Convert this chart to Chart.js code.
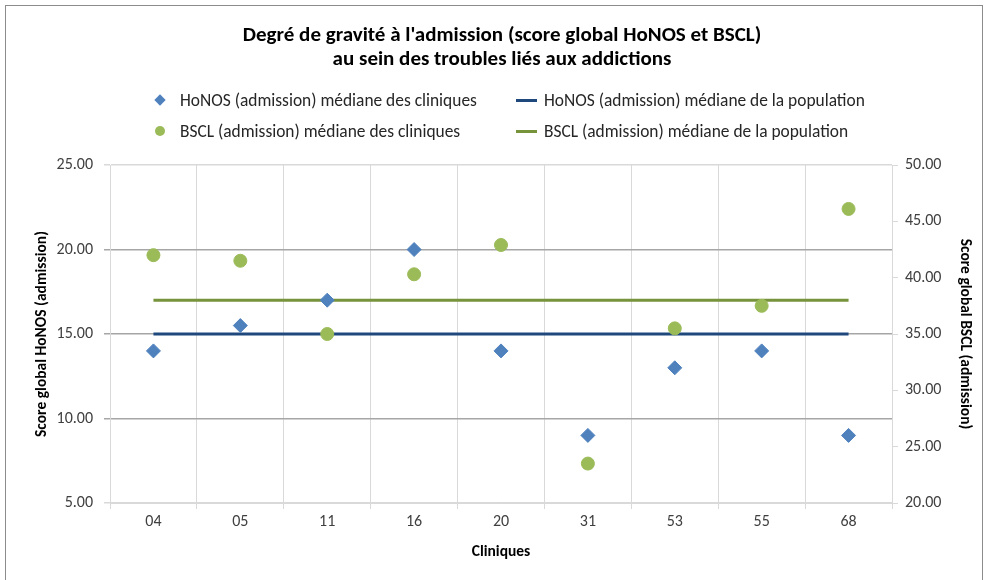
<!DOCTYPE html>
<html>
<head>
<meta charset="utf-8">
<script src="https://cdn.jsdelivr.net/npm/chart.js@4.4.1/dist/chart.umd.min.js"></script>
<style>
  body { margin: 0; background: #fff; }
  #wrap { position: relative; width: 984px; height: 580px; }
  #frame {
    position: absolute; left: 5px; top: 5px; right: 1px; bottom: -2px;
    border: 1px solid #8c8c8c; pointer-events: none;
  }
  #legend {
    position: absolute; left: 152px; top: 88px;
    display: grid; grid-template-columns: 364px 380px; row-gap: 8px;
    font-family: Carlito, Lato, sans-serif; font-size: 17.4px; color: #262626;
  }
  .item { display: flex; align-items: center; height: 23px; }
  .mark { width: 22px; height: 14px; position: relative; margin-right: 6px; }
  .diamond { position: absolute; left: 4px; top: 3px; width: 8px; height: 8px; transform: rotate(45deg); }
  .dot { position: absolute; left: 3px; top: 2px; width: 10px; height: 10px; border-radius: 50%; }
  .line { position: absolute; left: 0; top: 6px; width: 21px; height: 3px; }
</style>
</head>
<body>
<div id="wrap">
  <canvas id="chart" width="984" height="580"></canvas>
  <div id="legend"></div>
  <div id="frame"></div>
</div>
<script>
const cliniques = ["04", "05", "11", "16", "20", "31", "53", "55", "68"];
const honosCliniques = [14, 15.5, 17, 20, 14, 9, 13, 14, 9];
const honosPopulation = [15, 15, 15, 15, 15, 15, 15, 15, 15];
const bsclCliniques = [42, 41.5, 35, 40.3, 42.9, 23.5, 35.5, 37.5, 46.1];
const bsclPopulation = [38, 38, 38, 38, 38, 38, 38, 38, 38];

const FONT = "Carlito, Lato, sans-serif";
const BLUE = "#4f81bd";
const NAVY = "#1f497d";
const GREEN = "#9bbb59";
const OLIVE = "#77933c";

const datasets = [
  {
    label: "HoNOS (admission) médiane des cliniques",
    data: honosCliniques,
    yAxisID: "y",
    showLine: false,
    pointStyle: "rectRot",
    pointRadius: 7,
    pointHoverRadius: 7,
    backgroundColor: BLUE,
    borderColor: BLUE,
    order: 1,
  },
  {
    label: "HoNOS (admission) médiane de la population",
    data: honosPopulation,
    yAxisID: "y",
    borderColor: NAVY,
    backgroundColor: NAVY,
    borderWidth: 3,
    pointRadius: 0,
    order: 2,
  },
  {
    label: "BSCL (admission) médiane des cliniques",
    data: bsclCliniques,
    yAxisID: "y1",
    showLine: false,
    pointStyle: "circle",
    pointRadius: 6.5,
    pointHoverRadius: 6.5,
    backgroundColor: GREEN,
    borderColor: GREEN,
    order: 1,
  },
  {
    label: "BSCL (admission) médiane de la population",
    data: bsclPopulation,
    yAxisID: "y1",
    borderColor: OLIVE,
    backgroundColor: OLIVE,
    borderWidth: 3,
    pointRadius: 0,
    order: 2,
  },
];

// legend drawn as html grid, two columns like the original
const legendEl = document.getElementById("legend");
datasets.forEach((ds) => {
  const item = document.createElement("div");
  item.className = "item";
  let cls = "line";
  if (ds.pointStyle === "rectRot") cls = "diamond";
  else if (ds.pointStyle === "circle") cls = "dot";
  item.innerHTML =
    `<span class="mark"><span class="${cls}" style="background:${ds.backgroundColor}"></span></span>` +
    `<span>${ds.label}</span>`;
  legendEl.appendChild(item);
});

const tickFont = { family: FONT, size: 16 };
const titleFont = { family: FONT, size: 15.5, weight: "bold", lineHeight: 1.2 };

new Chart(document.getElementById("chart"), {
  type: "line",
  data: { labels: cliniques, datasets: datasets },
  options: {
    responsive: false,
    animation: false,
    layout: { padding: { left: 20, right: 0, top: 0, bottom: 0 } },
    plugins: {
      legend: { display: false },
      tooltip: { enabled: false },
      title: {
        display: true,
        text: [
          "Degré de gravité à l'admission (score global HoNOS et BSCL)",
          "au sein des troubles liés aux addictions",
        ],
        color: "#000",
        font: { family: FONT, size: 21, weight: "bold", lineHeight: 1.15 },
        padding: { top: 24, bottom: 92.7 },
      },
    },
    scales: {
      x: {
        offset: true,
        afterFit: (scale) => { scale.height = 77; },
        grid: {
          offset: true,
          color: "#d9d9d9",
          tickLength: 6,
        },
        border: { color: "#d9d9d9" },
        ticks: { color: "#404040", font: tickFont, padding: 3 },
        title: {
          display: true,
          text: "Cliniques",
          color: "#000",
          font: titleFont,
          padding: { top: 0, bottom: 18.7 },
        },
      },
      y: {
        position: "left",
        min: 5,
        max: 25,
        afterFit: (scale) => { scale.width = 90; },
        ticks: {
          stepSize: 5,
          color: "#404040",
          font: tickFont,
          padding: 11,
          callback: (v) => v.toFixed(2),
        },
        grid: {
          tickLength: 6,
          color: (ctx) =>
            ctx.tick && (ctx.tick.value === 5 || ctx.tick.value === 25) ? "#d9d9d9" : "#a6a6a6",
          lineWidth: 1.5,
        },
        border: { color: "#d9d9d9" },
        title: {
          display: true,
          text: "Score global HoNOS (admission)",
          color: "#000",
          font: titleFont,
          padding: { top: 12.7, bottom: 0 },
        },
      },
      y1: {
        position: "right",
        min: 20,
        max: 50,
        afterFit: (scale) => { scale.width = 92; },
        ticks: {
          stepSize: 5,
          color: "#404040",
          font: tickFont,
          padding: 7,
          callback: (v) => v.toFixed(2),
        },
        grid: { drawOnChartArea: false, tickLength: 6, color: "#d9d9d9" },
        border: { color: "#d9d9d9" },
        title: {
          display: true,
          text: "Score global BSCL (admission)",
          color: "#000",
          font: titleFont,
          padding: { top: 9.7, bottom: 0 },
        },
      },
    },
  },
});
</script>
</body>
</html>
